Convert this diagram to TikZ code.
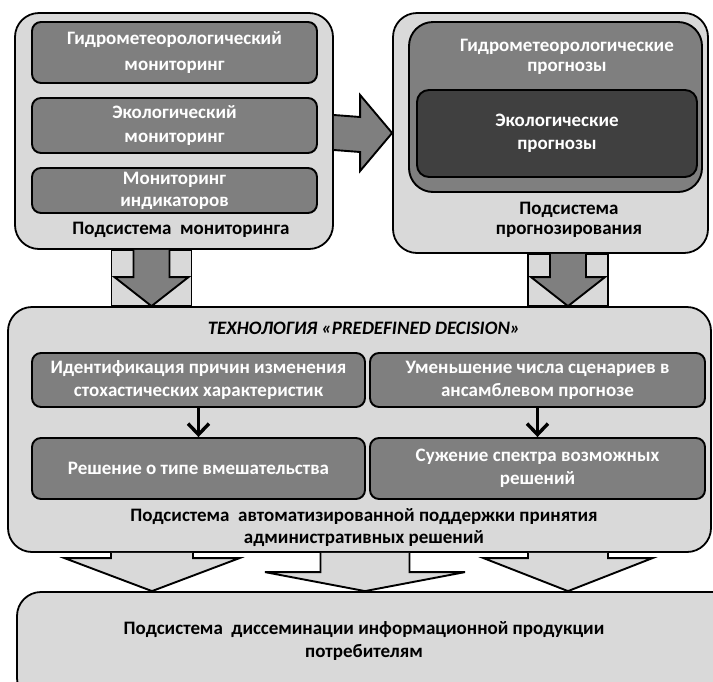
\documentclass[tikz,border=0pt]{standalone}
\usepackage{fontspec}
\setmainfont{Carlito}
\usetikzlibrary{arrows.meta, calc}
\definecolor{claro}{HTML}{D9D9D9}
\definecolor{medio}{HTML}{7F7F7F}
\definecolor{oscuro}{HTML}{404040}
\newcommand\letra[1]{\bfseries\fontsize{19}{#1}\selectfont}
\tikzset{
  bloque/.style={rectangle, rounded corners=24pt, draw=black, line width=1.8pt,
    fill=claro},
  subcaja/.style={rectangle, rounded corners=9pt, draw=black, line width=1.9pt,
    fill=medio, text=white, align=center, font=\letra{23}},
  rotulo/.style={align=center, font=\letra{23}, text=black},
  flecha/.style={draw=black, line width=1.9pt, line join=miter}
}

\begin{document}
\begin{tikzpicture}[x=1pt, y=-1pt,
  punta/.style={-{Straight Barb[length=11pt, width=21pt]}, line width=3.4pt}]

  \useasboundingbox (0,0) rectangle (713,681);
  \clip (0,0) rectangle (713,681);

  % --- Subsistema de monitoreo ---
  \node[bloque, minimum width=318, minimum height=236] (mon) at (174,131) {};
  \node[subcaja, font=\letra{26}, minimum width=285, minimum height=61] (mon1)
    at (174.5,52.5) {Гидрометеорологический\\мониторинг};
  \node[subcaja, font=\letra{24}, minimum width=285, minimum height=55] (mon2)
    at (174.5,125.5) {Экологический\\мониторинг};
  \node[subcaja, font=\letra{22}, minimum width=285, minimum height=45, inner sep=0pt]
    (mon3) at (174.5,190.5) {Мониторинг\\индикаторов};
  \node[rotulo] (monlbl) at (181,230) {Подсистема\ \ мониторинга};

  % --- Subsistema de pronostico ---
  \node[bloque, minimum width=315, minimum height=240] (prog) at (550.5,133) {};
  \node[subcaja, rounded corners=24pt, minimum width=293, minimum height=170] (prog1)
    at (555.5,107) {};
  \node[rotulo, font=\letra{20}, text=white] (prog1lbl) at (567,57)
    {Гидрометеорологические\\прогнозы};
  \node[subcaja, rounded corners=12pt, fill=oscuro, minimum width=280, minimum height=87]
    (prog2) at (557,133.5) {Экологические\\прогнозы};
  \node[rotulo, font=\letra{20}] (proglbl) at (569,220)
    {Подсистема\\прогнозирования};

  % flecha monitoreo -> pronostico
  \draw[flecha, fill=medio] ($(mon.east)+(0,-16)$) -- ($(prog.west)+(-32,-16)$)
    -- ($(prog.west)+(-32,-38)$) -- (prog.west) -- ($(prog.west)+(-32,38)$)
    -- ($(prog.west)+(-32,19)$) -- ($(mon.east)+(0,19)$);

  % --- Subsistema de decisiones ---
  \node[bloque, minimum width=703, minimum height=245] (mid) at (359.5,429.5) {};
  \node[rotulo, font=\bfseries\itshape\fontsize{19}{23}\selectfont] (tit) at (364,328)
    {ТЕХНОЛОГИЯ «PREDEFINED DECISION»};
  \node[subcaja, minimum width=333, minimum height=54] (idn) at (198.5,380)
    {Идентификация причин изменения\\стохастических характеристик};
  \node[subcaja, minimum width=335, minimum height=54] (umn) at (537.5,380)
    {Уменьшение числа сценариев в\\ансамблевом прогнозе};
  \node[subcaja, minimum width=333, minimum height=61] (res) at (198.5,468.5)
    {Решение о типе вмешательства};
  \node[subcaja, minimum width=335, minimum height=61] (suz) at (537.5,468.5)
    {Сужение спектра возможных\\решений};
  \node[rotulo, font=\letra{22}] (midlbl) at (364,528)
    {Подсистема\ \ автоматизированной поддержки принятия\\административных решений};

  \draw[punta] (idn.south) -- (res.north);
  \draw[punta] (umn.south) -- (suz.north);

  % flechas hacia decisiones
  \foreach \cx/\src in {151.5/mon, 568/prog} {
    \path (\cx,0 |- \src.south) coordinate (t) (\cx,0 |- mid.north) coordinate (p);
    \draw[flecha, fill=claro] ($(t)+(-40,0)$) rectangle ($(p)+(40,0)$);
    \draw[flecha, fill=medio] ($(t)+(-18,0)$) -- ($(p)+(-18,-29)$) -- ($(p)+(-37,-29)$)
      -- (p) -- ($(p)+(37,-29)$) -- ($(p)+(18,-29)$) -- ($(t)+(18,0)$);
  }

  % --- Diseminacion ---
  \node[bloque, minimum width=730, minimum height=110] (dis) at (382,647) {};
  \node[rotulo, font=\letra{24}] (dislbl) at (364,641)
    {Подсистема\ \ диссеминации информационной продукции\\потребителям};

  \foreach \cx/\sw/\hw/\hl in {152/41/87.5/33, 365/44.5/100/19, 568/40/84.5/33} {
    \path (\cx,0 |- mid.south) coordinate (t) (\cx,0 |- dis.north) coordinate (p);
    \draw[flecha, fill=claro] ($(t)+(-\sw,0)$) -- ($(p)+(-\sw,-\hl)$) -- ($(p)+(-\hw,-\hl)$)
      -- (p) -- ($(p)+(\hw,-\hl)$) -- ($(p)+(\sw,-\hl)$) -- ($(t)+(\sw,0)$);
  }

\end{tikzpicture}
\end{document}
